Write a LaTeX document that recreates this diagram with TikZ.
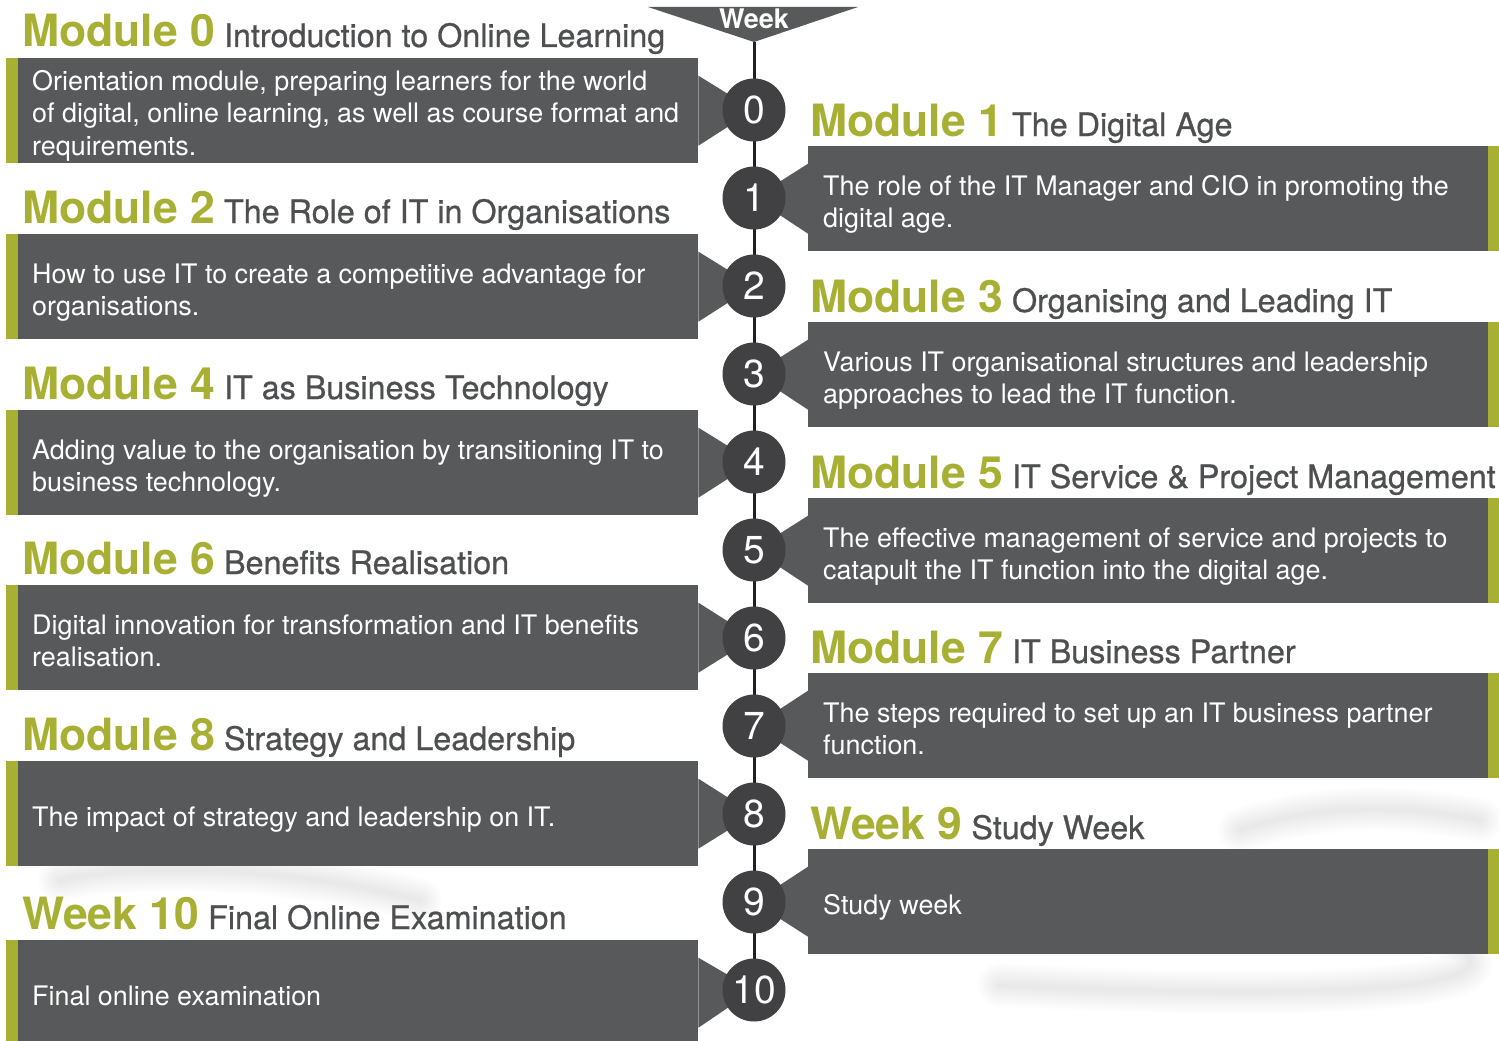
\documentclass[tikz,border=0pt]{standalone}
\usepackage{fontspec}
\setmainfont{TeX Gyre Heros}
\newfontfamily\subfont[FakeBold=0.7]{TeX Gyre Heros}
\definecolor{boxgray}{RGB}{88,89,91}
\definecolor{circgray}{RGB}{65,64,66}
\definecolor{lime}{RGB}{168,176,52}
\definecolor{linedark}{RGB}{35,31,32}
\definecolor{titlegray}{RGB}{78,79,81}
\pgfdeclarelayer{bg}
\pgfsetlayers{bg,main}
\tikzset{
  panel/.style={fill=boxgray, draw=none, inner sep=0pt, minimum height=105pt, minimum width=680pt, rectangle},
  weekcirc/.style={circle, fill=circgray, draw=none, minimum size=63pt, inner sep=0pt, text=white, font=\fontsize{39}{39}\selectfont},
  titletext/.style={inner sep=0pt, anchor=base west, text=titlegray, font=\subfont\fontsize{32.3}{36}\selectfont},
  bodytext/.style={inner sep=0pt, anchor=base west, text=white, font=\fontsize{26.9}{32}\selectfont},
  spine/.style={line width=3pt, draw=linedark},
  smoke/.style={draw=black, draw opacity=0.007, line cap=round},
}
\newcommand\bigtitle[1]{{\color{lime}\normalfont\bfseries\fontsize{44.5}{46}\selectfont #1}}
% #1 side (0 left, 1 right), #2 index, #3 box top, #4 big title, #5 subtitle, #6 number of lines, #7 body
\newcommand\modentry[7]{%
  \pgfmathsetmacro\cy{110+88*#2}%
  \pgfmathsetmacro\bl{#3+52.5+12.5-16*(#6-1)}%
  \ifnum#1=0
    \begin{pgfonlayer}{bg}
      \node[panel, anchor=north west] (b#2) at (18,#3) {};
      \fill[lime] (b#2.north west) rectangle ([xshift=-12pt]b#2.south west);
      \fill[boxgray] ([yshift=35pt]b#2.east) -- ([yshift=-35pt]b#2.east) -- (c#2.center) -- cycle;
    \end{pgfonlayer}
    \node[titletext] (t#2) at (22,#3-11) {\bigtitle{#4} #5};
    \node[bodytext] (x#2) at (32,\bl) {\parbox[t]{660pt}{\raggedright #7}};
  \else
    \begin{pgfonlayer}{bg}
      \node[panel, anchor=north west] (b#2) at (808,#3) {};
      \fill[lime] (b#2.north east) rectangle ([xshift=11pt]b#2.south east);
      \fill[boxgray] ([yshift=35pt]b#2.west) -- ([yshift=-35pt]b#2.west) -- (c#2.center) -- cycle;
    \end{pgfonlayer}
    \node[titletext] (t#2) at (810,#3-10) {\bigtitle{#4} #5};
    \node[bodytext] (x#2) at (823,\bl) {\parbox[t]{660pt}{\raggedright #7}};
  \fi
}
\begin{document}
\begin{tikzpicture}[x=1pt,y=-1pt]
\useasboundingbox (0,0) rectangle (1499,1041);
\begin{pgfonlayer}{bg}
  \fill[white] (0,0) rectangle (1499,1041);
  % faint background smoke
  \foreach \w in {4,8,...,44} {
    \draw[smoke, line width=\w pt] (1000,985) .. controls (1300,1000) and (1480,990) .. (1470,960) .. controls (1460,930) and (1350,900) .. (1250,880);
    \draw[smoke, line width=\w pt] (1240,830) .. controls (1300,810) and (1380,800) .. (1480,820);
    \draw[smoke, line width=\w pt] (60,880) .. controls (150,860) and (300,870) .. (420,900);
  }
\end{pgfonlayer}
% week circles
\foreach \k in {0,...,10} {
  \node[weekcirc] (c\k) at (754,{110+88*\k}) {\k};
}
% week header
\fill[boxgray] (648,7) -- (858,7) -- (754,42) -- cycle;
\coordinate (wtip) at (754,42);
\node[inner sep=0pt, anchor=base, text=white, font=\bfseries\fontsize{27}{27}\selectfont] (wk) at (754,29) {Week};
\begin{pgfonlayer}{bg}
  \draw[spine] (wtip) -- (c10.center);
\end{pgfonlayer}
% modules
\modentry{0}{0}{58}{Module 0}{Introduction to Online Learning}{3}{Orientation module, preparing learners for the world\\ of digital, online learning, as well as course format and\\ requirements.}
\modentry{1}{1}{146}{Module 1}{The Digital Age}{2}{The role of the IT Manager and CIO in promoting the\\ digital age.}
\modentry{0}{2}{234}{Module 2}{The Role of IT in Organisations}{2}{How to use IT to create a competitive advantage for\\ organisations.}
\modentry{1}{3}{322}{Module 3}{Organising and Leading IT}{2}{Various IT organisational structures and leadership\\ approaches to lead the IT function.}
\modentry{0}{4}{410}{Module 4}{IT as Business Technology}{2}{Adding value to the organisation by transitioning IT to\\ business technology.}
\modentry{1}{5}{498}{Module 5}{IT Service \& Project Management}{2}{The effective management of service and projects to\\ catapult the IT function into the digital age.}
\modentry{0}{6}{585}{Module 6}{Benefits Realisation}{2}{Digital innovation for transformation and IT benefits\\ realisation.}
\modentry{1}{7}{673}{Module 7}{IT Business Partner}{2}{The steps required to set up an IT business partner\\ function.}
\modentry{0}{8}{761}{Module 8}{Strategy and Leadership}{1}{The impact of strategy and leadership on IT.}
\modentry{1}{9}{849}{Week 9}{Study Week}{1}{Study week}
\modentry{0}{10}{940}{Week 10}{Final Online Examination}{1}{Final online examination}
\end{tikzpicture}
\end{document}
